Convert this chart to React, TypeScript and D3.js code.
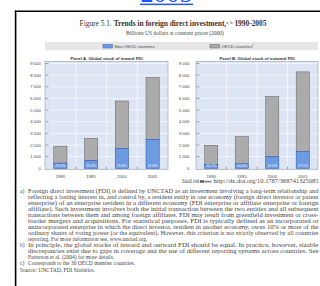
import React from "react";
import * as d3 from "d3";

const years = ["1990", "1995", "2000", "2005"];
const inwardTotal = [1900, 2560, 5780, 7800];
const inwardNonOECD = [440, 650, 1720, 2480];
const outwardTotal = [1980, 2720, 6170, 8280];
const outwardNonOECD = [330, 380, 990, 1420];
const yTicks = [0, 1000, 2000, 3000, 4000, 5000, 6000, 7000, 8000, 9000];
const legendLabels = ["Non-OECD countries", "OECD countries"];
const panelTitles = ["Panel A. Global stock of inward FDI", "Panel B. Global stock of outward FDI"];

const noteLines: [string, string, boolean][] = [
  ["a)", "Foreign direct investment (FDI) is defined by UNCTAD as an investment involving a long-term relationship and", true],
  ["", "reflecting a lasting interest in, and control by, a resident entity in one economy (foreign direct investor or parent", true],
  ["", "enterprise) of an enterprise resident in a different economy (FDI enterprise or affiliate enterprise or foreign", true],
  ["", "affiliate). Such investment involves both the initial transaction between the two entities and all subsequent", true],
  ["", "transactions between them and among foreign affiliates. FDI may result from greenfield investment or cross-", true],
  ["", "border mergers and acquisitions. For statistical purposes, FDI is typically defined as an incorporated or", true],
  ["", "unincorporated enterprise in which the direct investor, resident in another economy, owns 10% or more of the", true],
  ["", "ordinary shares of voting power (or the equivalent). However, this criterion is not strictly observed by all countries", true],
  ["", "reporting. For more information see, www.unctad.org.", false],
  ["b)", "In principle, the global stocks of inward and outward FDI should be equal. In practice, however, sizable", true],
  ["", "discrepancies exist due to gaps in coverage and the use of different reporting systems across countries. See", true],
  ["", "Patterson et al. (2004) for more details.", false],
  ["c)", "Corresponds to the 30 OECD member countries.", false],
];

const BLUE = "#6d9ae0";
const BLUE_STROKE = "#2f5fae";
const GRAY = "#ababab";
const GRAY_STROKE = "#5f5f5f";
const PLOT_BG = "#dde4f3";
const SANS = "Liberation Sans, Arial, sans-serif";
const SERIF = "Liberation Serif, Times New Roman, serif";

const fmt = (v: number) => (v >= 1000 ? d3.format(",")(v).replace(",", " ") : String(v));

function Panel({ x0, x1, labelX, title, total, non }: { x0: number; x1: number; labelX: number; title: string; total: number[]; non: number[] }) {
  const top = 61.5;
  const bottom = 169.3;
  const x = d3.scaleBand<string>().domain(years).range([x0, x1]).paddingInner(0.57).paddingOuter(0.285);
  const y = d3.scaleLinear().domain([0, 9000]).range([168.3, 63.5]);
  const step = x.step();
  const boundaries = years.slice(1).map((yr) => (x(yr) as number) - (step - x.bandwidth()) / 2);
  return (
    <g>
      <text x={(x0 + x1) / 2} y={59.6} fontSize={4.3} fontWeight="bold" fontFamily={SANS} fill="#333" textAnchor="middle">{title}</text>
      <rect x={x0} y={top} width={x1 - x0} height={bottom - top} fill={PLOT_BG} stroke="#9ea6bb" strokeWidth={0.7} />
      {yTicks.slice(1).map((t) => (
        <line key={"g" + t} x1={x0} x2={x1} y1={y(t)} y2={y(t)} stroke="#ffffff" strokeWidth={0.6} />
      ))}
      {boundaries.map((b, i) => (
        <line key={"v" + i} x1={b} x2={b} y1={top} y2={bottom} stroke="#ffffff" strokeWidth={0.6} />
      ))}
      {yTicks.map((t) => (
        <g key={"t" + t}>
          {t > 0 && <line x1={x0} x2={x0 + 3.5} y1={y(t)} y2={y(t)} stroke="#555" strokeWidth={0.5} />}
          <text x={labelX} y={y(t) + 1.5} fontSize={4.3} fontFamily={SANS} fill="#444" textAnchor="end">{fmt(t)}</text>
        </g>
      ))}
      {boundaries.map((b, i) => (
        <line key={"bt" + i} x1={b} x2={b} y1={bottom} y2={bottom - 2.5} stroke="#555" strokeWidth={0.5} />
      ))}
      {years.map((yr, i) => {
        const bx = x(yr) as number;
        const w = x.bandwidth();
        return (
          <g key={yr}>
            <rect x={bx} y={y(total[i])} width={w} height={y(non[i]) - y(total[i])} fill={GRAY} stroke={GRAY_STROKE} strokeWidth={0.5} />
            <rect x={bx} y={y(non[i])} width={w} height={y(0) - y(non[i])} fill={BLUE} stroke={BLUE_STROKE} strokeWidth={0.6} />
            <text x={bx + w / 2} y={166.6} fontSize={3.6} fontFamily={SANS} fill="#f2f5ff" textAnchor="middle">
              {d3.format(".1f")((non[i] / total[i]) * 100) + "%"}
            </text>
            <text x={bx + w / 2} y={177.6} fontSize={4.3} fontFamily={SANS} fill="#444" textAnchor="middle">{yr}</text>
          </g>
        );
      })}
    </g>
  );
}

export default function App() {
  const lineY0 = 192.6;
  const lh = 6.05;
  return (
    <svg width={320} height={286} viewBox="0 0 320 286" style={{ position: "absolute", left: 0, top: 0, background: "#fff" }}>
      <rect x={0} y={0} width={320} height={286} fill="#fff" />
      <text x={166.5} y={2.4} fontSize={26} fontFamily={SERIF} fill="#1f55ff" textAnchor="middle">2005</text>
      <rect x={140} y={3.6} width={53} height={1.5} fill="#1f55ff" />
      <line x1={15} x2={320} y1={11.2} y2={11.2} stroke="#000" strokeWidth={1.6} />
      <line x1={15.6} x2={15.6} y1={10.4} y2={286} stroke="#000" strokeWidth={1.6} />

      <text x={173} y={26.3} fontSize={7.4} fontFamily={SERIF} fill="#333" textAnchor="middle">
        <tspan>Figure 5.1.  </tspan>
        <tspan fontWeight="bold">Trends in foreign direct investment,</tspan>
        <tspan fontSize={4.4} dy={-2.6}>a, b</tspan>
        <tspan fontWeight="bold" dy={2.6}> 1990-2005</tspan>
      </text>
      <text x={175} y={34.8} fontSize={5.5} fontFamily={SERIF} fill="#444" textAnchor="middle">Billions US dollars at constant prices (2000)</text>

      <rect x={45} y={42} width={273} height={8.2} fill="#e6e6e6" />
      <rect x={103} y={44.4} width={9.5} height={3.6} fill={BLUE} stroke={BLUE_STROKE} strokeWidth={0.5} />
      <text x={114.5} y={47.8} fontSize={4.3} fontFamily={SANS} fill="#444">{legendLabels[0]}</text>
      <rect x={210} y={44.4} width={9.5} height={3.6} fill={GRAY} stroke={GRAY_STROKE} strokeWidth={0.5} />
      <text x={221.5} y={47.8} fontSize={4.3} fontFamily={SANS} fill="#444">
        {legendLabels[1]}
        <tspan fontSize={3} dy={-1.4}>c</tspan>
      </text>

      <Panel x0={45} x1={168} labelX={41} title={panelTitles[0]} total={inwardTotal} non={inwardNonOECD} />
      <Panel x0={196} x1={318} labelX={189.5} title={panelTitles[1]} total={outwardTotal} non={outwardNonOECD} />

      <text x={182} y={183.2} fontSize={5.2} fontFamily={SERIF} fill="#444" fontStyle="italic">StatLink</text>
      <rect x={200} y={180.3} width={4} height={2.4} fill="#555" />
      <rect x={204.5} y={180.8} width={7} height={1.6} fill="#777" />
      <text x={213.5} y={183.2} fontSize={5.2} fontFamily={SERIF} fill="#444" textLength={105} lengthAdjust="spacingAndGlyphs">http://dx.doi.org/10.1787/368741325085</text>

      {noteLines.map(([mark, txt, just], i) => (
        <g key={i}>
          {mark && <text x={20} y={lineY0 + i * lh} fontSize={5.5} fontFamily={SERIF} fill="#444">{mark}</text>}
          <text
            x={28}
            y={lineY0 + i * lh}
            fontSize={5.5}
            fontFamily={SERIF}
            fill="#444"
            {...(just ? { textLength: 290.5, lengthAdjust: "spacingAndGlyphs" } : {})}
          >
            {txt}
          </text>
        </g>
      ))}
      <text x={20} y={lineY0 + noteLines.length * lh + 1.2} fontSize={5.5} fontFamily={SERIF} fill="#444">Source: UNCTAD, FDI Statistics.</text>
    </svg>
  );
}
